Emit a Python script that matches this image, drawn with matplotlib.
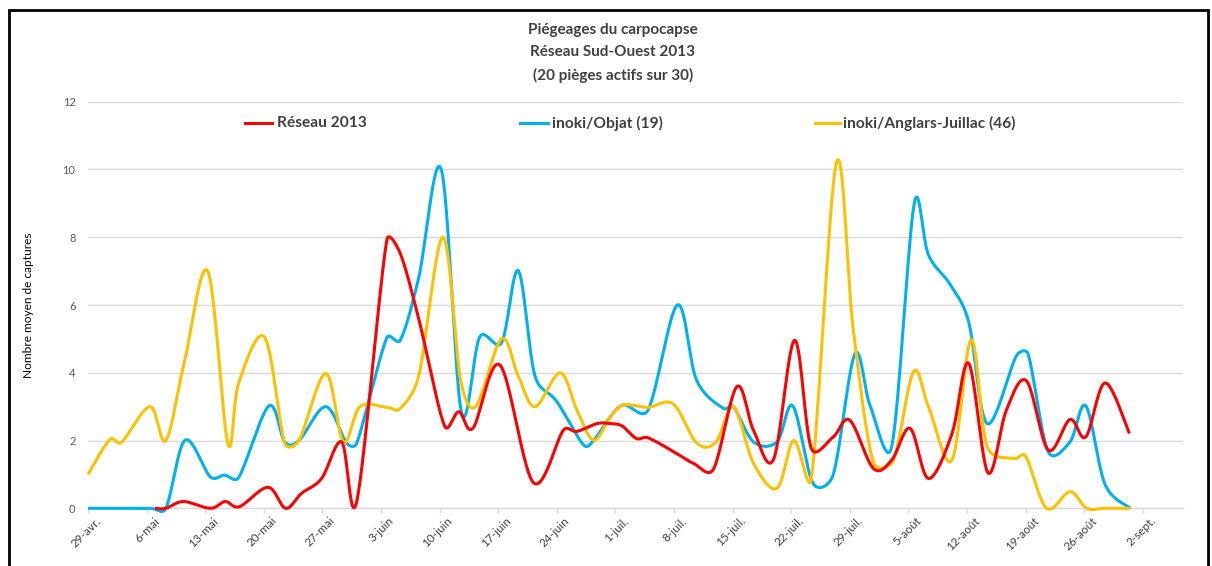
import numpy as np
import matplotlib
matplotlib.use("Agg")
import matplotlib.pyplot as plt
import matplotlib.transforms as mtransforms
from matplotlib.lines import Line2D
from matplotlib.patches import Rectangle

# ---------------- data (days after 29 April 2013) ----------------
tick_labels = ['29-avr.', '6-mai', '13-mai', '20-mai', '27-mai', '3-juin', '10-juin',
               '17-juin', '24-juin', '1-juil.', '8-juil.', '15-juil.', '22-juil.',
               '29-juil.', '5-août', '12-août', '19-août', '26-août', '2-sept.']

series_names = ['Réseau 2013', 'inoki/Objat (19)', 'inoki/Anglars-Juillac (46)']
series_colors = ['#FF0000', '#00B0F0', '#FFC000']

reseau_days = [8.0, 9.3, 11.4, 14.6, 16.4, 18.1, 21.5, 23.6, 25.5, 27.9, 30.3, 32.1,
               35.7, 37.3, 39.5, 42.6, 44.3, 46.0, 49.2, 53.2, 56.8, 58.4, 60.8, 62.4,
               63.8, 65.5, 66.9, 70.3, 72.3, 74.7, 77.5, 79.5, 81.9, 84.4, 86.4, 89.0,
               91.0, 93.8, 96.0, 98.2, 100.4, 103.2, 105.2, 107.5, 109.7, 112.1, 114.7,
               117.3, 119.2, 121.5, 124.4]
reseau_vals = [0, 0, 0.2, 0, 0.2, 0.05, 0.62, 0, 0.44, 0.88, 1.96, 0.2,
               7.92, 7.52, 5.6, 2.43, 2.85, 2.37, 4.23, 0.76, 2.31, 2.27, 2.5, 2.5,
               2.43, 2.06, 2.08, 1.62, 1.33, 1.15, 3.59, 2.3, 1.45, 4.96, 1.77, 2.1,
               2.6, 1.18, 1.42, 2.36, 0.88, 2.2, 4.28, 1.05, 2.9, 3.76, 1.72,
               2.62, 2.11, 3.7, 2.21]

objat_days = [0, 2.6, 4.0, 7.4, 9.3, 11.6, 14.6, 16.3, 18.0, 21.6, 23.5, 25.2, 28.4,
              30.9, 32.1, 35.7, 37.3, 39.5, 42.2, 44.6, 46.8, 49.4, 51.4, 53.4, 56.0,
              59.2, 60.4, 62.4, 64.0, 66.9, 70.4, 72.7, 75.9, 77.1, 79.5, 82.3, 84.2,
              86.6, 89.0, 91.6, 93.4, 96.0, 98.7, 100.4, 103.0, 105.2, 107.4, 110.9,
              112.3, 114.7, 117.3, 119.2, 121.5, 124.5]
objat_vals = [0, 0, 0, 0, 0, 2.01, 0.93, 0.98, 0.91, 3.02, 1.96, 2.0, 3.0,
              1.92, 1.92, 5.04, 4.96, 6.8, 10.0, 2.85, 5.06, 4.89, 7.01, 3.9, 3.15,
              1.87, 2.0, 2.7, 3.05, 2.9, 6.0, 3.78, 2.95, 3.0, 1.96, 1.96, 3.02,
              0.74, 0.98, 4.55, 3.05, 1.82, 9.0, 7.47, 6.6, 5.5, 2.5, 4.5,
              4.55, 1.67, 1.96, 3.02, 0.7, 0]

anglars_days = [0, 2.6, 4.0, 7.4, 9.3, 11.5, 14.3, 16.7, 18.0, 21.1, 23.5, 25.2, 28.4,
                30.5, 32.5, 35.7, 37.3, 39.5, 42.4, 44.5, 46.3, 49.4, 51.4, 53.4, 56.4,
                58.4, 60.4, 62.4, 64.0, 66.9, 69.9, 72.7, 75.0, 77.1, 79.5, 82.3, 84.3,
                86.4, 89.4, 91.4, 93.8, 96.2, 98.6, 100.4, 103.2, 105.5, 107.4, 110.5,
                112.0, 114.5, 117.3, 119.3, 121.5, 124.5]
anglars_vals = [1.0, 2.03, 1.95, 3.0, 2.0, 4.3, 7.0, 1.92, 3.7, 5.05, 1.92, 2.0, 3.98,
                1.96, 3.0, 2.98, 2.95, 3.9, 8.0, 3.8, 3.0, 5.0, 3.9, 3.0, 4.0,
                2.9, 2.01, 2.7, 3.05, 2.98, 3.08, 1.93, 1.95, 3.0, 1.33, 0.59, 2.0,
                0.88, 10.2, 5.3, 1.37, 1.42, 4.03, 3.0, 1.42, 4.98, 1.82, 1.47,
                1.54, 0, 0.49, 0, 0, 0]

title_lines = ['Piégeages du carpocapse', 'Réseau Sud-Ouest 2013', '(20 pièges actifs sur 30)']
y_label = 'Nombre moyen de captures'

# ---------------- figure ----------------
W, H = 1212, 566
FONT = ['Lato', 'DejaVu Sans']
plt.rcParams['font.family'] = FONT

fig = plt.figure(figsize=(W / 100, H / 100), dpi=100)
fig.patch.set_facecolor('white')
ax_l, ax_r, ax_t, ax_b = 88, 1183, 101.7, 508.3
ax = fig.add_axes([ax_l / W, 1 - ax_b / H, (ax_r - ax_l) / W, (ax_b - ax_t) / H])

ax.set_xlim(0, 130.8)
ax.set_ylim(0, 12)
ax.set_yticks(np.arange(0, 13, 2))
ax.set_xticks(np.arange(0, 127, 7))
ax.set_xticklabels(tick_labels, rotation=45, ha='right', va='center',
                   rotation_mode='anchor', fontsize=8.5, color='#404040')
for lab in ax.get_yticklabels():
    lab.set_fontsize(8)
    lab.set_color('#595959')
ax.tick_params(axis='y', length=0, pad=9)
ax.tick_params(axis='x', length=3.6, width=1, color='#d9d9d9', direction='out', pad=2)
offset = mtransforms.ScaledTranslation(11 / 100, -3 / 100, fig.dpi_scale_trans)
for lab in ax.get_xticklabels():
    lab.set_transform(lab.get_transform() + offset)

for s in ['left', 'right', 'top']:
    ax.spines[s].set_visible(False)
ax.spines['bottom'].set_color('#d9d9d9')
ax.spines['bottom'].set_linewidth(1)
ax.yaxis.grid(True, color='#d9d9d9', linewidth=1)
ax.set_axisbelow(True)


def smooth(xs, ys, n=30):
    """Excel-like smoothed line: Bezier segments whose control arms are
    (P2-P0)/6, limited to half of the segment length (screen space)."""
    P = ax.transData.transform(np.column_stack([xs, ys]))
    P = np.vstack([P[0], P, P[-1]])
    out = []
    t = np.linspace(0, 1, n)[:, None]
    for i in range(1, len(P) - 2):
        p0, p1, p2, p3 = P[i - 1], P[i], P[i + 1], P[i + 2]
        d12 = np.linalg.norm(p2 - p1)
        a1 = (p2 - p0) / 6.0
        a2 = (p3 - p1) / 6.0
        for a in (a1, a2):
            la = np.linalg.norm(a)
            if la > d12 / 2 and la > 0:
                a *= (d12 / 2) / la
        c1 = p1 + a1
        c2 = p2 - a2
        seg = (1 - t) ** 3 * p1 + 3 * (1 - t) ** 2 * t * c1 + 3 * (1 - t) * t ** 2 * c2 + t ** 3 * p2
        out.append(seg if i == 1 else seg[1:])
    C = ax.transData.inverted().transform(np.vstack(out))
    return C[:, 0], C[:, 1]


all_series = [(objat_days, objat_vals, series_colors[1], 3),
              (anglars_days, anglars_vals, series_colors[2], 4),
              (reseau_days, reseau_vals, series_colors[0], 5)]
for d, v, c, z in all_series:
    sx, sy = smooth(d, v)
    ax.plot(sx, sy, color=c, lw=2.2, zorder=z, clip_on=False, solid_capstyle='butt')

# titles
for txt, yy in zip(title_lines, [30, 52.5, 75]):
    fig.text(613 / W, 1 - yy / H, txt, ha='center', va='center', fontsize=11,
             fontweight='bold', color='#404040')

# y label
fig.text(28 / W, 1 - 305 / H, y_label, rotation=90, ha='center', va='center',
         fontsize=8.6, color='black')

# legend (manual placement like the original)
leg_items = [(245, 272, 277), (520, 548, 552), (815, 840, 843)]
for (x0, x1, xt), name, col in zip(leg_items, series_names, series_colors):
    yy = 1 - 123 / H
    fig.add_artist(Line2D([x0 / W, x1 / W], [yy, yy], transform=fig.transFigure,
                          color=col, lw=2.2))
    fig.text(xt / W, yy, name, ha='left', va='center', fontsize=11.2,
             fontweight='bold', color='#404040')

# chart border
fig.add_artist(Rectangle((8.5 / W, -0.05), 1199 / W, 1.05 - 10.5 / H,
                         transform=fig.transFigure, fill=False, ec='black', lw=2))

fig.savefig('out.png', dpi=100, facecolor='white')
